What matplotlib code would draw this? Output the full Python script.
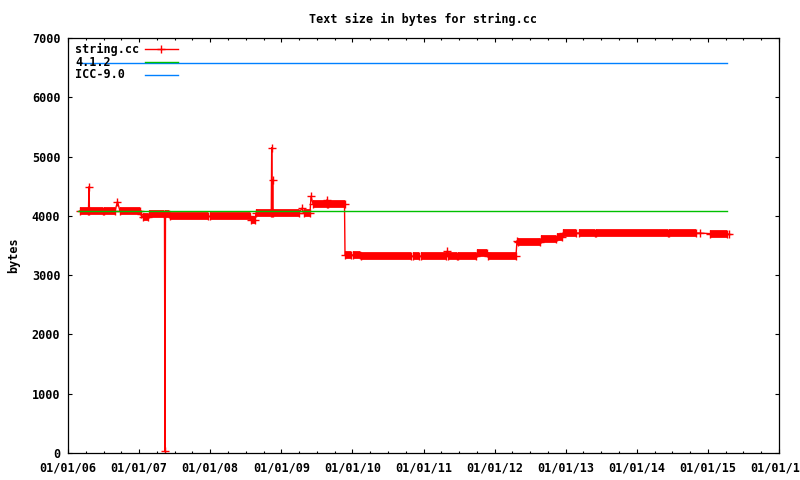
import matplotlib
matplotlib.use("Agg")
import matplotlib.pyplot as plt
from matplotlib.ticker import FixedLocator

# ---- data (decimal years / bytes) ----
dates = [2006.162, 2006.288, 2006.295, 2006.302, 2006.492, 2006.513, 2006.661, 2006.696,
         2006.731, 2007.013, 2007.027, 2007.055, 2007.125, 2007.139, 2007.357, 2007.364,
         2007.371, 2007.421, 2007.428, 2007.969, 2007.997, 2008.560, 2008.574, 2008.630,
         2008.644, 2008.859, 2008.865, 2008.872, 2008.879, 2008.886, 2009.249, 2009.291,
         2009.319, 2009.404, 2009.418, 2009.446, 2009.636, 2009.643, 2009.650, 2009.889,
         2009.896, 2009.980, 2010.008, 2010.107, 2010.114, 2010.824, 2010.852, 2010.937,
         2010.965, 2011.323, 2011.330, 2011.338, 2011.471, 2011.485, 2011.745, 2011.752,
         2011.900, 2011.907, 2012.301, 2012.315, 2012.329, 2012.639, 2012.653, 2012.864,
         2012.878, 2012.948, 2012.962, 2013.145, 2013.187, 2013.412, 2013.426, 2014.439,
         2014.453, 2014.826, 2014.889, 2015.030, 2015.269, 2015.297]
sizes = [4080, 4080, 4490, 4080, 4080, 4080, 4080, 4240,
         4080, 4080, 4030, 3980, 3980, 4030, 4030, 30,
         4030, 4030, 3990, 3990, 3990, 3990, 3930, 3930,
         4050, 4050, 5150, 4050, 4600, 4050, 4050, 4130,
         4050, 4050, 4330, 4200, 4200, 4270, 4200, 4200,
         3340, 3340, 3340, 3340, 3320, 3320, 3320, 3320,
         3320, 3320, 3400, 3320, 3320, 3320, 3320, 3370,
         3370, 3330, 3330, 3580, 3560, 3560, 3610, 3610,
         3640, 3640, 3710, 3710, 3710, 3710, 3710, 3710,
         3710, 3710, 3710, 3700, 3690, 3690]
# 1 = a dense run of commits continues at this size up to the next point
dense = [1, 0, 0, 1, 0, 1, 0, 0,
         1, 0, 0, 1, 0, 1, 0, 0,
         1, 0, 1, 0, 1, 0, 1, 0,
         1, 0, 0, 0, 0, 1, 0, 0,
         1, 0, 0, 1, 0, 0, 1, 0,
         1, 0, 1, 0, 1, 0, 1, 0,
         1, 0, 0, 1, 0, 1, 0, 1,
         0, 1, 0, 0, 1, 0, 1, 0,
         1, 0, 1, 0, 1, 0, 1, 0,
         1, 0, 0, 1, 0, 0]

ref_dates = [2006.145, 2015.269]
gcc_412 = [4080, 4080]
icc_90 = [6580, 6580]

xticks = [2006, 2007, 2008, 2009, 2010, 2011, 2012, 2013, 2014, 2015, 2016]
xtick_labels = ["01/01/06", "01/01/07", "01/01/08", "01/01/09", "01/01/10", "01/01/11",
                "01/01/12", "01/01/13", "01/01/14", "01/01/15", "01/01/16"]
yticks = [0, 1000, 2000, 3000, 4000, 5000, 6000, 7000]

series_names = ["string.cc", "4.1.2", "ICC-9.0"]
colors = ["#ff0000", "#00c000", "#0080ff"]

plt.rcParams["font.family"] = ["DejaVu Sans Mono", "DejaVu Sans"]
plt.rcParams["font.weight"] = "bold"
FS = 8.5
LW = 1.0

fig = plt.figure(figsize=(8, 4.8), dpi=100)
ax = fig.add_axes([68 / 800, 27 / 480, 711 / 800, 415 / 480])

# string.cc series
ax.plot(dates, sizes, color=colors[0], lw=LW, marker="+", ms=6, mew=LW, zorder=2)
for i, d in enumerate(dense):
    if d:
        ax.hlines(sizes[i], dates[i], dates[i + 1], colors=colors[0], lw=5.6,
                  capstyle="butt", zorder=2)

# reference compilers
ax.plot(ref_dates, gcc_412, color=colors[1], lw=LW, zorder=3, snap=True)
ax.plot(ref_dates, icc_90, color=colors[2], lw=LW, zorder=3, snap=True)

ax.set_xlim(2006, 2016)
ax.set_ylim(0, 7000)
ax.xaxis.set_major_locator(FixedLocator(xticks))
ax.set_xticklabels(xtick_labels)
ax.xaxis.set_minor_locator(FixedLocator([2006 + q * 0.25 for q in range(41)]))
ax.yaxis.set_major_locator(FixedLocator(yticks))
ax.set_yticklabels([str(v) for v in yticks])

ax.tick_params(which="both", direction="in", top=True, right=True, width=0.8,
               labelsize=FS, color="black")
ax.tick_params(which="major", length=3.0)
ax.tick_params(which="minor", length=1.5)
ax.tick_params(axis="x", pad=6.0)
ax.tick_params(axis="y", pad=5.5)
for s in ax.spines.values():
    s.set_linewidth(0.9)
    s.set_color("black")

# legend (gnuplot style, left-justified text, samples to the right)
rows = [0.9735, 0.942, 0.911]
for name, col, yy, mk in zip(series_names, colors, rows, ["+", None, None]):
    ax.text(0.0098, yy, name, transform=ax.transAxes, fontsize=FS, va="center",
            ha="left", fontweight="bold")
    ax.plot([0.108, 0.155], [yy, yy], transform=ax.transAxes, color=col, lw=LW,
            zorder=4, snap=True)
    if mk:
        ax.plot([0.1315], [yy], transform=ax.transAxes, color=col, marker="+", ms=6,
                mew=LW, zorder=4)

fig.text(423 / 800, 1 - 19 / 480, "Text size in bytes for string.cc", ha="center",
         va="center", fontsize=FS)
fig.text(14 / 800, 1 - 255 / 480, "bytes", rotation=90, ha="center", va="center",
         fontsize=FS)

fig.savefig("out.png", dpi=100)
